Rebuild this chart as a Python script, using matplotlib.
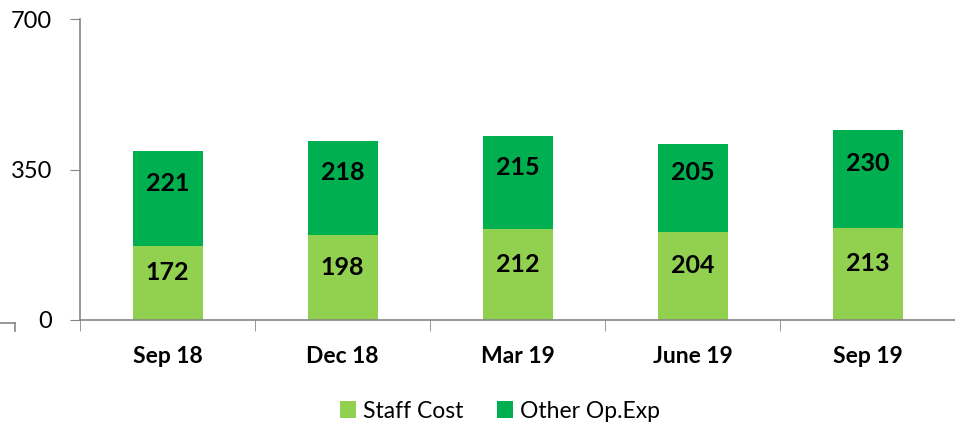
import matplotlib
matplotlib.use("Agg")
import matplotlib.pyplot as plt
from matplotlib.lines import Line2D
import numpy as np

categories = ["Sep 18", "Dec 18", "Mar 19", "June 19", "Sep 19"]
staff_cost = [172, 198, 212, 204, 213]
other_opex = [221, 218, 215, 205, 230]
yticks = [0, 350, 700]

plt.rcParams['font.family'] = ['Lato', 'DejaVu Sans']

W, H = 955, 425
fig = plt.figure(figsize=(W/100, H/100), dpi=100)
ax = fig.add_axes([80/W, 1-320/H, 875/W, 301/H])

x = np.arange(len(categories))
c1, c2 = "#92D050", "#00B050"
b1 = ax.bar(x, staff_cost, width=0.4, color=c1, label="Staff Cost")
b2 = ax.bar(x, other_opex, width=0.4, bottom=staff_cost, color=c2, label="Other Op.Exp")

for xi, s, o in zip(x, staff_cost, other_opex):
    ax.text(xi, s/2 + 24, str(s), ha="center", va="center", fontsize=18, fontweight="bold")
    ax.text(xi, s + o/2 + 36, str(o), ha="center", va="center", fontsize=18, fontweight="bold")

ax.set_ylim(0, 700)
ax.set_xlim(-0.5, -0.5 + 875/176)
ax.set_yticks(yticks)
ax.set_yticklabels([str(v) for v in yticks], fontsize=17)
ax.set_xticks(x)
ax.set_xticklabels(categories, fontsize=16.5, fontweight="bold")
ax.set_xticks(np.arange(len(categories)+1) - 0.5, minor=True)
ax.tick_params(axis="x", which="major", length=0, pad=19)
ax.tick_params(axis="x", which="minor", length=8, color="#868686", direction="out")
ax.tick_params(axis="y", length=7, color="#868686", pad=13)

for side in ["top", "right"]:
    ax.spines[side].set_visible(False)
for side in ["left", "bottom"]:
    ax.spines[side].set_color("#868686")
    ax.spines[side].set_linewidth(1.2)

# small artifact at bottom-left
fig.add_artist(Line2D([0, 15/W], [1-323/H, 1-323/H], color="#868686", lw=1.2))
fig.add_artist(Line2D([15/W, 15/W], [1-323/H, 1-331/H], color="#868686", lw=1.2))

fig.legend(handles=[b1, b2], loc="center", bbox_to_anchor=(500/W, 1-411/H), ncol=2,
           frameon=False, fontsize=16.5, handlelength=0.7, handleheight=0.7,
           handletextpad=0.3, columnspacing=1.5)

fig.savefig("out.png", dpi=100)
